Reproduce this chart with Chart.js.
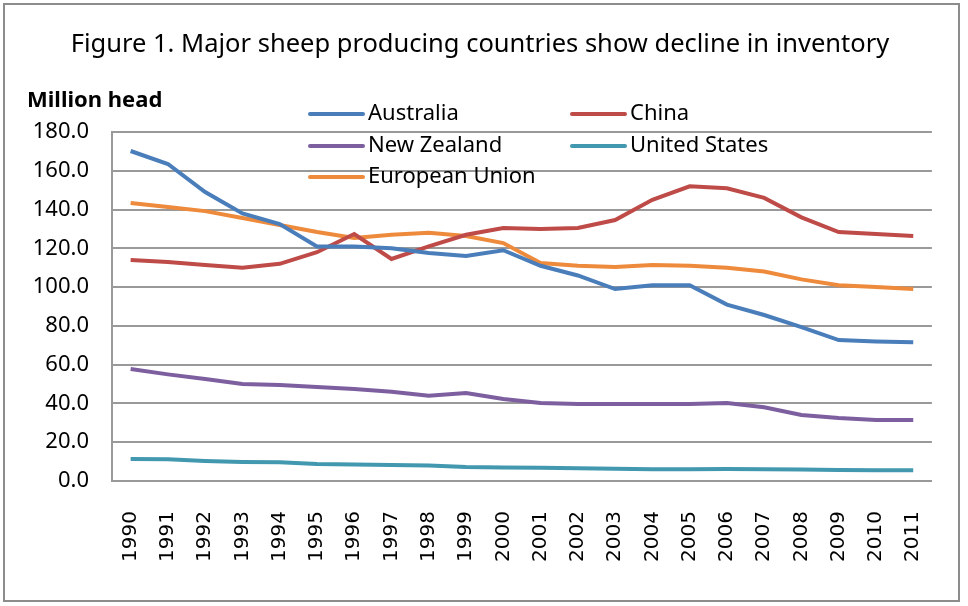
<!DOCTYPE html>
<html>
<head>
<meta charset="utf-8">
<script src="https://cdn.jsdelivr.net/npm/chart.js@4"></script>
<style>
  html, body { margin: 0; padding: 0; background: #fff; }
  #wrap { position: relative; width: 968px; height: 606px; }
  #frame { position: absolute; left: 3px; top: 3px; width: 957px; height: 599px; border: 2px solid #8c8c8c; box-sizing: border-box; pointer-events: none; }
  canvas { display: block; }
</style>
</head>
<body>
<div id="wrap">
  <canvas id="sheepChart" width="968" height="606"></canvas>
  <div id="frame"></div>
</div>
<script>
// sheep inventory, million head
const years = ["1990", "1991", "1992", "1993", "1994", "1995", "1996", "1997", "1998", "1999", "2000",
  "2001", "2002", "2003", "2004", "2005", "2006", "2007", "2008", "2009", "2010", "2011"];
const australia = [170.2, 163.5, 149, 138, 132.5, 121, 121, 120, 117.6, 116, 119,
  111, 106, 99, 101, 101, 91, 85.6, 79.4, 72.7, 72, 71.5];
const china = [114, 113, 111.4, 110, 112, 118, 127.4, 114.5, 121, 127, 130.5,
  130, 130.5, 134.6, 145, 152, 151, 146, 136, 128.4, 127.4, 126.4];
const newZealand = [57.8, 55, 52.6, 50, 49.5, 48.5, 47.4, 46, 44, 45.4, 42.3,
  40.2, 39.7, 39.7, 39.7, 39.7, 40.2, 38, 34, 32.5, 31.5, 31.5];
const unitedStates = [11.3, 11.2, 10.3, 9.8, 9.7, 8.8, 8.5, 8.2, 8.0, 7.2, 6.9,
  6.8, 6.6, 6.3, 6.1, 6.1, 6.2, 6.1, 5.9, 5.7, 5.6, 5.5];
const europeanUnion = [143.4, 141.3, 139.2, 135.6, 132, 128.4, 125.3, 127, 128, 126.4, 122.7,
  112.4, 111, 110.4, 111.4, 111, 110, 108, 104, 101, 100, 99];
const yTicks = [0, 20, 40, 60, 80, 100, 120, 140, 160, 180];

const titleText = "Figure 1. Major sheep producing countries show decline in inventory";
const unitText = "Million head";
const fontFamily = "'Noto Sans', 'Open Sans', sans-serif";

function series(label, data, color) {
  return {
    label, data,
    borderColor: color, backgroundColor: color,
    borderWidth: 4, pointRadius: 0, tension: 0, fill: false,
  };
}

// title, unit label and the two-column legend, drawn on top of the plot
const decorations = {
  id: "decorations",
  afterDraw(chart) {
    const ctx = chart.ctx;
    ctx.save();
    ctx.fillStyle = "#000";
    ctx.textBaseline = "middle";
    ctx.textAlign = "center";
    ctx.font = "25.5px " + fontFamily;
    ctx.fillText(titleText, 480, 45);
    ctx.textAlign = "left";
    ctx.font = "bold 22px " + fontFamily;
    ctx.fillText(unitText, 27, 101);

    ctx.font = "22px " + fontFamily;
    const cols = [310, 572];
    const rows = [114, 146, 177];
    chart.data.datasets.forEach((ds, i) => {
      const x = cols[i % 2];
      const y = rows[Math.floor(i / 2)];
      ctx.strokeStyle = ds.borderColor;
      ctx.lineWidth = 4;
      ctx.lineCap = "round";
      ctx.beginPath();
      ctx.moveTo(x, y);
      ctx.lineTo(x + 53, y);
      ctx.stroke();
      ctx.fillText(ds.label, x + 58, y);
    });
    ctx.restore();
  },
};

new Chart(document.getElementById("sheepChart").getContext("2d"), {
  type: "line",
  data: {
    labels: years,
    datasets: [
      series("Australia", australia, "#4a7ebb"),
      series("China", china, "#be4b48"),
      series("New Zealand", newZealand, "#7d5fa0"),
      series("United States", unitedStates, "#4198af"),
      series("European Union", europeanUnion, "#ee8a3c"),
    ],
  },
  options: {
    responsive: false,
    animation: false,
    layout: { padding: { top: 132, left: 6, right: 33, bottom: 0 } },
    plugins: { legend: { display: false }, title: { display: false }, tooltip: { enabled: false } },
    scales: {
      x: {
        offset: true,
        grid: { display: false, drawTicks: false },
        border: { color: "#999", width: 2 },
        ticks: {
          color: "#000", font: { family: "'DejaVu Sans', sans-serif", size: 20 },
          minRotation: 90, maxRotation: 90, padding: 30, autoSkip: false,
        },
        afterFit: (scale) => { scale.height = 606 - 481; },
      },
      y: {
        min: 0, max: 180,
        afterBuildTicks: (scale) => { scale.ticks = yTicks.map((v) => ({ value: v })); },
        grid: { color: "#999", lineWidth: 2, drawTicks: false },
        border: { color: "#999", width: 2 },
        ticks: {
          color: "#000", font: { family: fontFamily, size: 22 }, padding: 23,
          callback: (v) => Number(v).toFixed(1),
        },
        afterFit: (scale) => { scale.width = 106; },
      },
    },
  },
  plugins: [decorations],
});
</script>
</body>
</html>
